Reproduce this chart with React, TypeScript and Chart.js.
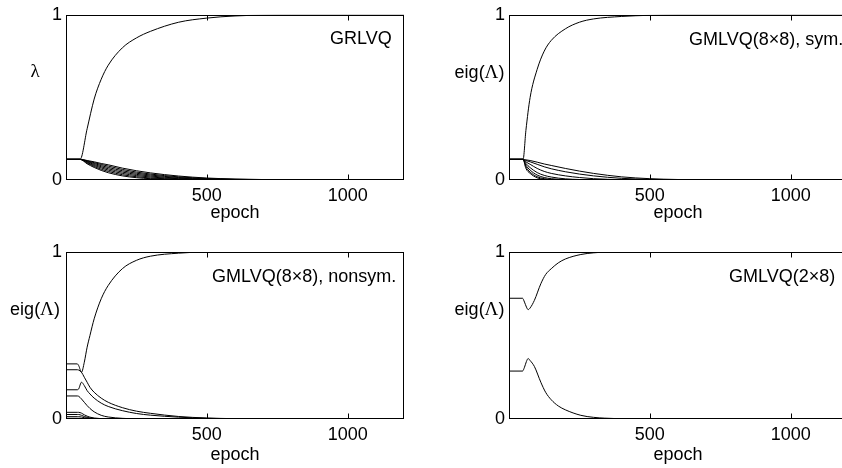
import React, { useEffect, useRef } from "react";
import { Chart, registerables } from "chart.js";

Chart.register(...registerables);

const FONT_FAMILY = '"Liberation Sans", Arial, Helvetica, sans-serif';
const GREEK_FAMILY = '"Liberation Serif", "Times New Roman", serif';
const FONT_SIZE = 18;
const X_TICKS = [500, 1000];
const Y_TICKS = [0, 1];
const X_LABEL = "epoch";

// ---- Panel A: GRLVQ ----
const EPOCHS_A = [0, 50, 75, 100, 125, 150, 200, 250, 300, 400, 500, 600, 800, 1000, 1200];
const A_RISE = [0.125, 0.125, 0.31, 0.49, 0.61, 0.695, 0.8, 0.86, 0.9, 0.955, 0.98, 0.993, 1, 1, 1];
const A_D1 = [0.125, 0.125, 0.118, 0.11, 0.1, 0.092, 0.072, 0.056, 0.043, 0.024, 0.012, 0.006, 0.001, 0, 0];
const A_D2 = [0.125, 0.125, 0.116, 0.105, 0.094, 0.084, 0.064, 0.048, 0.036, 0.019, 0.009, 0.004, 0.001, 0, 0];
const A_D3 = [0.125, 0.125, 0.113, 0.1, 0.087, 0.076, 0.056, 0.041, 0.03, 0.015, 0.007, 0.003, 0, 0, 0];
const A_D4 = [0.125, 0.125, 0.11, 0.094, 0.08, 0.068, 0.048, 0.034, 0.024, 0.011, 0.005, 0.002, 0, 0, 0];
const A_D5 = [0.125, 0.125, 0.106, 0.088, 0.073, 0.06, 0.04, 0.027, 0.018, 0.008, 0.003, 0.001, 0, 0, 0];
const A_D6 = [0.125, 0.125, 0.102, 0.082, 0.065, 0.052, 0.032, 0.02, 0.012, 0.005, 0.002, 0, 0, 0, 0];
const A_D7 = [0.125, 0.125, 0.098, 0.076, 0.058, 0.044, 0.025, 0.014, 0.008, 0.003, 0.001, 0, 0, 0, 0];

// ---- Panel B: GMLVQ(8x8), sym. ----
const EPOCHS_B = [0, 50, 60, 75, 100, 125, 150, 200, 250, 300, 400, 500, 600, 800, 1000, 1200];
const B_RISE = [0.125, 0.125, 0.3, 0.5, 0.67, 0.78, 0.845, 0.915, 0.955, 0.975, 0.99, 0.997, 1, 1, 1, 1];
const B_D1 = [0.125, 0.125, 0.122, 0.118, 0.108, 0.097, 0.088, 0.07, 0.054, 0.04, 0.019, 0.008, 0.003, 0, 0, 0];
const B_D2 = [0.125, 0.125, 0.118, 0.11, 0.095, 0.08, 0.068, 0.05, 0.036, 0.025, 0.01, 0.004, 0.001, 0, 0, 0];
const B_D3 = [0.125, 0.125, 0.11, 0.095, 0.07, 0.052, 0.04, 0.025, 0.015, 0.008, 0.002, 0, 0, 0, 0, 0];
const B_D4 = [0.125, 0.125, 0.1, 0.075, 0.045, 0.028, 0.018, 0.007, 0.003, 0.001, 0, 0, 0, 0, 0, 0];
const B_D5 = [0.125, 0.125, 0.09, 0.06, 0.03, 0.015, 0.008, 0.002, 0, 0, 0, 0, 0, 0, 0, 0];
const B_D6 = [0.125, 0.125, 0.08, 0.048, 0.02, 0.008, 0.003, 0, 0, 0, 0, 0, 0, 0, 0, 0];
const B_D7 = [0.125, 0.125, 0.07, 0.04, 0.013, 0.004, 0.001, 0, 0, 0, 0, 0, 0, 0, 0, 0];

// ---- Panel C: GMLVQ(8x8), nonsym. ----
const EPOCHS_C = [0, 40, 45, 55, 65, 75, 85, 100, 125, 150, 200, 250, 300, 400, 500, 600, 800, 1000, 1200];
const C_E1 = [0.33, 0.33, 0.32, 0.28, 0.34, 0.43, 0.5, 0.6, 0.72, 0.8, 0.9, 0.95, 0.975, 0.993, 1, 1, 1, 1, 1];
const C_E2 = [0.295, 0.295, 0.293, 0.28, 0.25, 0.22, 0.19, 0.16, 0.125, 0.1, 0.068, 0.047, 0.034, 0.015, 0.006, 0.002, 0, 0, 0];
const C_E3 = [0.175, 0.175, 0.18, 0.22, 0.2, 0.17, 0.15, 0.125, 0.095, 0.075, 0.05, 0.033, 0.023, 0.011, 0.004, 0.001, 0, 0, 0];
const C_E4 = [0.138, 0.138, 0.136, 0.12, 0.1, 0.08, 0.063, 0.043, 0.022, 0.012, 0.004, 0.001, 0, 0, 0, 0, 0, 0, 0];
const C_E5 = [0.04, 0.04, 0.04, 0.035, 0.025, 0.017, 0.011, 0.006, 0.002, 0, 0, 0, 0, 0, 0, 0, 0, 0, 0];
const C_E6 = [0.027, 0.027, 0.027, 0.022, 0.015, 0.01, 0.006, 0.003, 0.001, 0, 0, 0, 0, 0, 0, 0, 0, 0, 0];
const C_E7 = [0.014, 0.014, 0.014, 0.012, 0.008, 0.005, 0.003, 0.001, 0, 0, 0, 0, 0, 0, 0, 0, 0, 0, 0];
const C_E8 = [0.004, 0.004, 0.004, 0.003, 0.002, 0.001, 0, 0, 0, 0, 0, 0, 0, 0, 0, 0, 0, 0, 0];

// ---- Panel D: GMLVQ(2x8) ----
const EPOCHS_D = [0, 48, 55, 62, 68, 75, 90, 113, 130, 150, 175, 200, 255, 300, 340, 400, 500, 600, 800, 1000, 1200];
const D_UPPER = [0.723, 0.723, 0.7, 0.67, 0.655, 0.665, 0.71, 0.81, 0.865, 0.9, 0.935, 0.958, 0.985, 0.995, 0.999, 1, 1, 1, 1, 1, 1];
const D_LOWER = [0.287, 0.287, 0.31, 0.345, 0.362, 0.35, 0.315, 0.22, 0.16, 0.115, 0.078, 0.055, 0.022, 0.01, 0.005, 0.002, 0, 0, 0, 0, 0];

type Panel = {
  key: string;
  left: number;
  top: number;
  width: number;
  height: number;
  padTop: number;
  padRight: number;
  yAxisWidth: number;
  xAxisHeight: number;
  epochs: number[];
  series: number[][];
  yLabel: string;
  yLabelX: number;
  yLabelY: number;
  title: string;
  titleX: number;
  titleY: number;
};

const PANELS: Panel[] = [
  {
    key: "a", left: 0, top: 0, width: 421, height: 226, padTop: 13, padRight: 17,
    yAxisWidth: 66, xAxisHeight: 46, epochs: EPOCHS_A,
    series: [A_RISE, A_D1, A_D2, A_D3, A_D4, A_D5, A_D6, A_D7],
    yLabel: "λ", yLabelX: 35, yLabelY: 72, title: "GRLVQ", titleX: 330, titleY: 39,
  },
  {
    key: "b", left: 421, top: 0, width: 430, height: 226, padTop: 13, padRight: 4,
    yAxisWidth: 88, xAxisHeight: 46, epochs: EPOCHS_B,
    series: [B_RISE, B_D1, B_D2, B_D3, B_D4, B_D5, B_D6, B_D7],
    yLabel: "eig(Λ)", yLabelX: 58.5, yLabelY: 73, title: "GMLVQ(8×8), sym.", titleX: 268, titleY: 40,
  },
  {
    key: "c", left: 0, top: 226, width: 421, height: 242, padTop: 26, padRight: 17,
    yAxisWidth: 66, xAxisHeight: 49, epochs: EPOCHS_C,
    series: [C_E1, C_E2, C_E3, C_E4, C_E5, C_E6, C_E7, C_E8],
    yLabel: "eig(Λ)", yLabelX: 35, yLabelY: 84, title: "GMLVQ(8×8), nonsym.", titleX: 212, titleY: 51,
  },
  {
    key: "d", left: 421, top: 226, width: 430, height: 242, padTop: 26, padRight: 4,
    yAxisWidth: 88, xAxisHeight: 49, epochs: EPOCHS_D,
    series: [D_UPPER, D_LOWER],
    yLabel: "eig(Λ)", yLabelX: 58.5, yLabelY: 84, title: "GMLVQ(2×8)", titleX: 308, titleY: 51,
  },
];

function drawMixed(ctx: CanvasRenderingContext2D, text: string, cx: number, cy: number) {
  const parts = text.split(/([\u0370-\u03FF])/).filter((s) => s.length > 0);
  const fonts = parts.map((s) =>
    /[\u0370-\u03FF]/.test(s) ? `${FONT_SIZE + 1}px ${GREEK_FAMILY}` : `${FONT_SIZE}px ${FONT_FAMILY}`
  );
  let total = 0;
  const widths = parts.map((s, i) => {
    ctx.font = fonts[i];
    const w = ctx.measureText(s).width;
    total += w;
    return w;
  });
  let x = cx - total / 2;
  ctx.textAlign = "left";
  parts.forEach((s, i) => {
    ctx.font = fonts[i];
    ctx.fillText(s, x, cy);
    x += widths[i];
  });
}

const framePlugin = {
  id: "frame",
  afterDatasetsDraw(chart: any, _args: any, opts: any) {
    const { ctx, chartArea: a } = chart;
    const xs = chart.scales.x;
    ctx.save();
    ctx.strokeStyle = "#000";
    ctx.lineWidth = 1;
    const L = Math.round(a.left) + 0.5;
    const T = Math.round(a.top) + 0.5;
    const R = Math.round(a.right) - 0.5;
    const B = Math.round(a.bottom) - 0.5;
    ctx.strokeRect(L, T, R - L, B - T);
    ctx.beginPath();
    for (const v of X_TICKS) {
      const px = Math.round(xs.getPixelForValue(v)) + 0.5;
      ctx.moveTo(px, B);
      ctx.lineTo(px, B - 5);
      ctx.moveTo(px, T);
      ctx.lineTo(px, T + 5);
    }
    ctx.stroke();
    ctx.fillStyle = "#000";
    ctx.textBaseline = "middle";
    drawMixed(ctx, opts.yLabel, opts.yLabelX, opts.yLabelY);
    ctx.font = `${FONT_SIZE}px ${FONT_FAMILY}`;
    ctx.textAlign = "left";
    ctx.fillText(opts.title, opts.titleX, opts.titleY);
    ctx.restore();
  },
};

function PanelChart({ p }: { p: Panel }) {
  const ref = useRef<HTMLCanvasElement | null>(null);
  useEffect(() => {
    if (!ref.current) return;
    const font = { family: FONT_FAMILY, size: FONT_SIZE };
    const chart = new Chart(ref.current, {
      type: "line",
      data: {
        datasets: p.series.map((s) => ({
          data: s.map((y, i) => ({ x: p.epochs[i], y })),
          borderColor: "#000",
          borderWidth: 1,
          pointRadius: 0,
          fill: false,
          cubicInterpolationMode: "monotone" as const,
        })),
      },
      options: {
        responsive: false,
        animation: false,
        devicePixelRatio: 1,
        layout: { padding: { top: p.padTop, right: p.padRight, left: 0, bottom: 0 } },
        plugins: {
          legend: { display: false },
          tooltip: { enabled: false },
          frame: {
            yLabel: p.yLabel, yLabelX: p.yLabelX, yLabelY: p.yLabelY,
            title: p.title, titleX: p.titleX, titleY: p.titleY,
          },
        } as any,
        scales: {
          x: {
            type: "linear",
            min: 0,
            max: 1200,
            afterBuildTicks: (s: any) => { s.ticks = X_TICKS.map((v) => ({ value: v })); },
            afterFit: (s: any) => { s.height = p.xAxisHeight; },
            grid: { display: false, drawTicks: false },
            border: { display: false },
            ticks: { color: "#000", font, padding: 5, maxRotation: 0, autoSkip: false, callback: (v: any) => String(v) },
            title: { display: true, text: X_LABEL, color: "#000", font, padding: { top: 0, bottom: 2 } },
          },
          y: {
            type: "linear",
            min: 0,
            max: 1,
            afterBuildTicks: (s: any) => { s.ticks = Y_TICKS.map((v) => ({ value: v })); },
            afterFit: (s: any) => { s.width = p.yAxisWidth; },
            grid: { display: false, drawTicks: false },
            border: { display: false },
            ticks: { color: "#000", font, padding: 4, autoSkip: false, callback: (v: any) => String(v) },
          },
        },
      },
      plugins: [framePlugin],
    } as any);
    return () => chart.destroy();
  }, [p]);
  return (
    <canvas
      ref={ref}
      width={p.width}
      height={p.height}
      style={{ position: "absolute", left: p.left, top: p.top, width: p.width, height: p.height }}
    />
  );
}

export default function App() {
  return (
    <div
      style={{
        position: "fixed", left: 0, top: 0, width: 842, height: 468,
        overflow: "hidden", background: "#fff",
      }}
    >
      {PANELS.map((p) => (
        <PanelChart key={p.key} p={p} />
      ))}
    </div>
  );
}
